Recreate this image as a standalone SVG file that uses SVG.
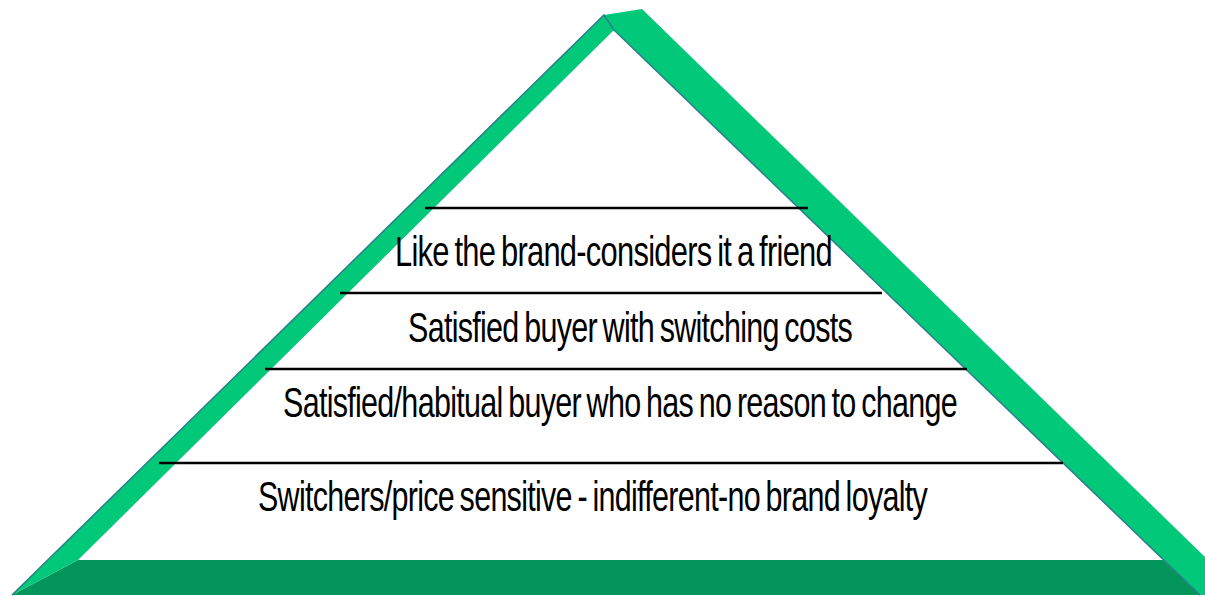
<svg xmlns="http://www.w3.org/2000/svg" width="1205" height="597" viewBox="0 0 1205 597">
  <style>
    .face { fill: #02C87A; }
    .base { fill: #03955A; }
    .shade { fill: none; stroke: #2A7F8A; stroke-width: 1.5; }
    .sep { stroke: #000; stroke-width: 2.5; }
    .lbl { font-family: "Liberation Sans", Arial, sans-serif; font-size: 43px; fill: #000; letter-spacing: -1px; word-spacing: -3px; }
  </style>
  <rect width="1205" height="597" fill="#fff"/>
  <g id="pyramid">
    <polygon class="base" points="12,595 78,560 1163,560 1200,595"/>
    <polygon class="face" points="12,595 604,15 614,30 78,560"/>
    <polygon class="face" points="604,15 642,9 1244,595 1200,595 614,30"/>
    <polyline class="shade" points="12,595 604,15 614,30"/>
    <line class="shade" x1="614" y1="30" x2="1200" y2="595"/>
  </g>
  <g id="connectors">
    <line class="sep" x1="425" y1="208" x2="808" y2="208"/>
    <line class="sep" x1="340" y1="293" x2="882" y2="293"/>
    <line class="sep" x1="265" y1="369" x2="967" y2="369"/>
    <line class="sep" x1="159" y1="463" x2="1063" y2="463"/>
  </g>
  <g id="level-top">
    <text class="lbl" x="395" y="266" textLength="437" lengthAdjust="spacingAndGlyphs">Like the brand-considers it a friend</text>
  </g>
  <g id="level-2">
    <text class="lbl" x="408" y="342" textLength="444" lengthAdjust="spacingAndGlyphs">Satisfied buyer with switching costs</text>
  </g>
  <g id="level-3">
    <text class="lbl" x="283" y="417" textLength="674" lengthAdjust="spacingAndGlyphs">Satisfied/habitual buyer who has no reason to change</text>
  </g>
  <g id="level-bottom">
    <text class="lbl" x="258" y="511" textLength="669" lengthAdjust="spacingAndGlyphs">Switchers/price sensitive - indifferent-no brand loyalty</text>
  </g>
</svg>
